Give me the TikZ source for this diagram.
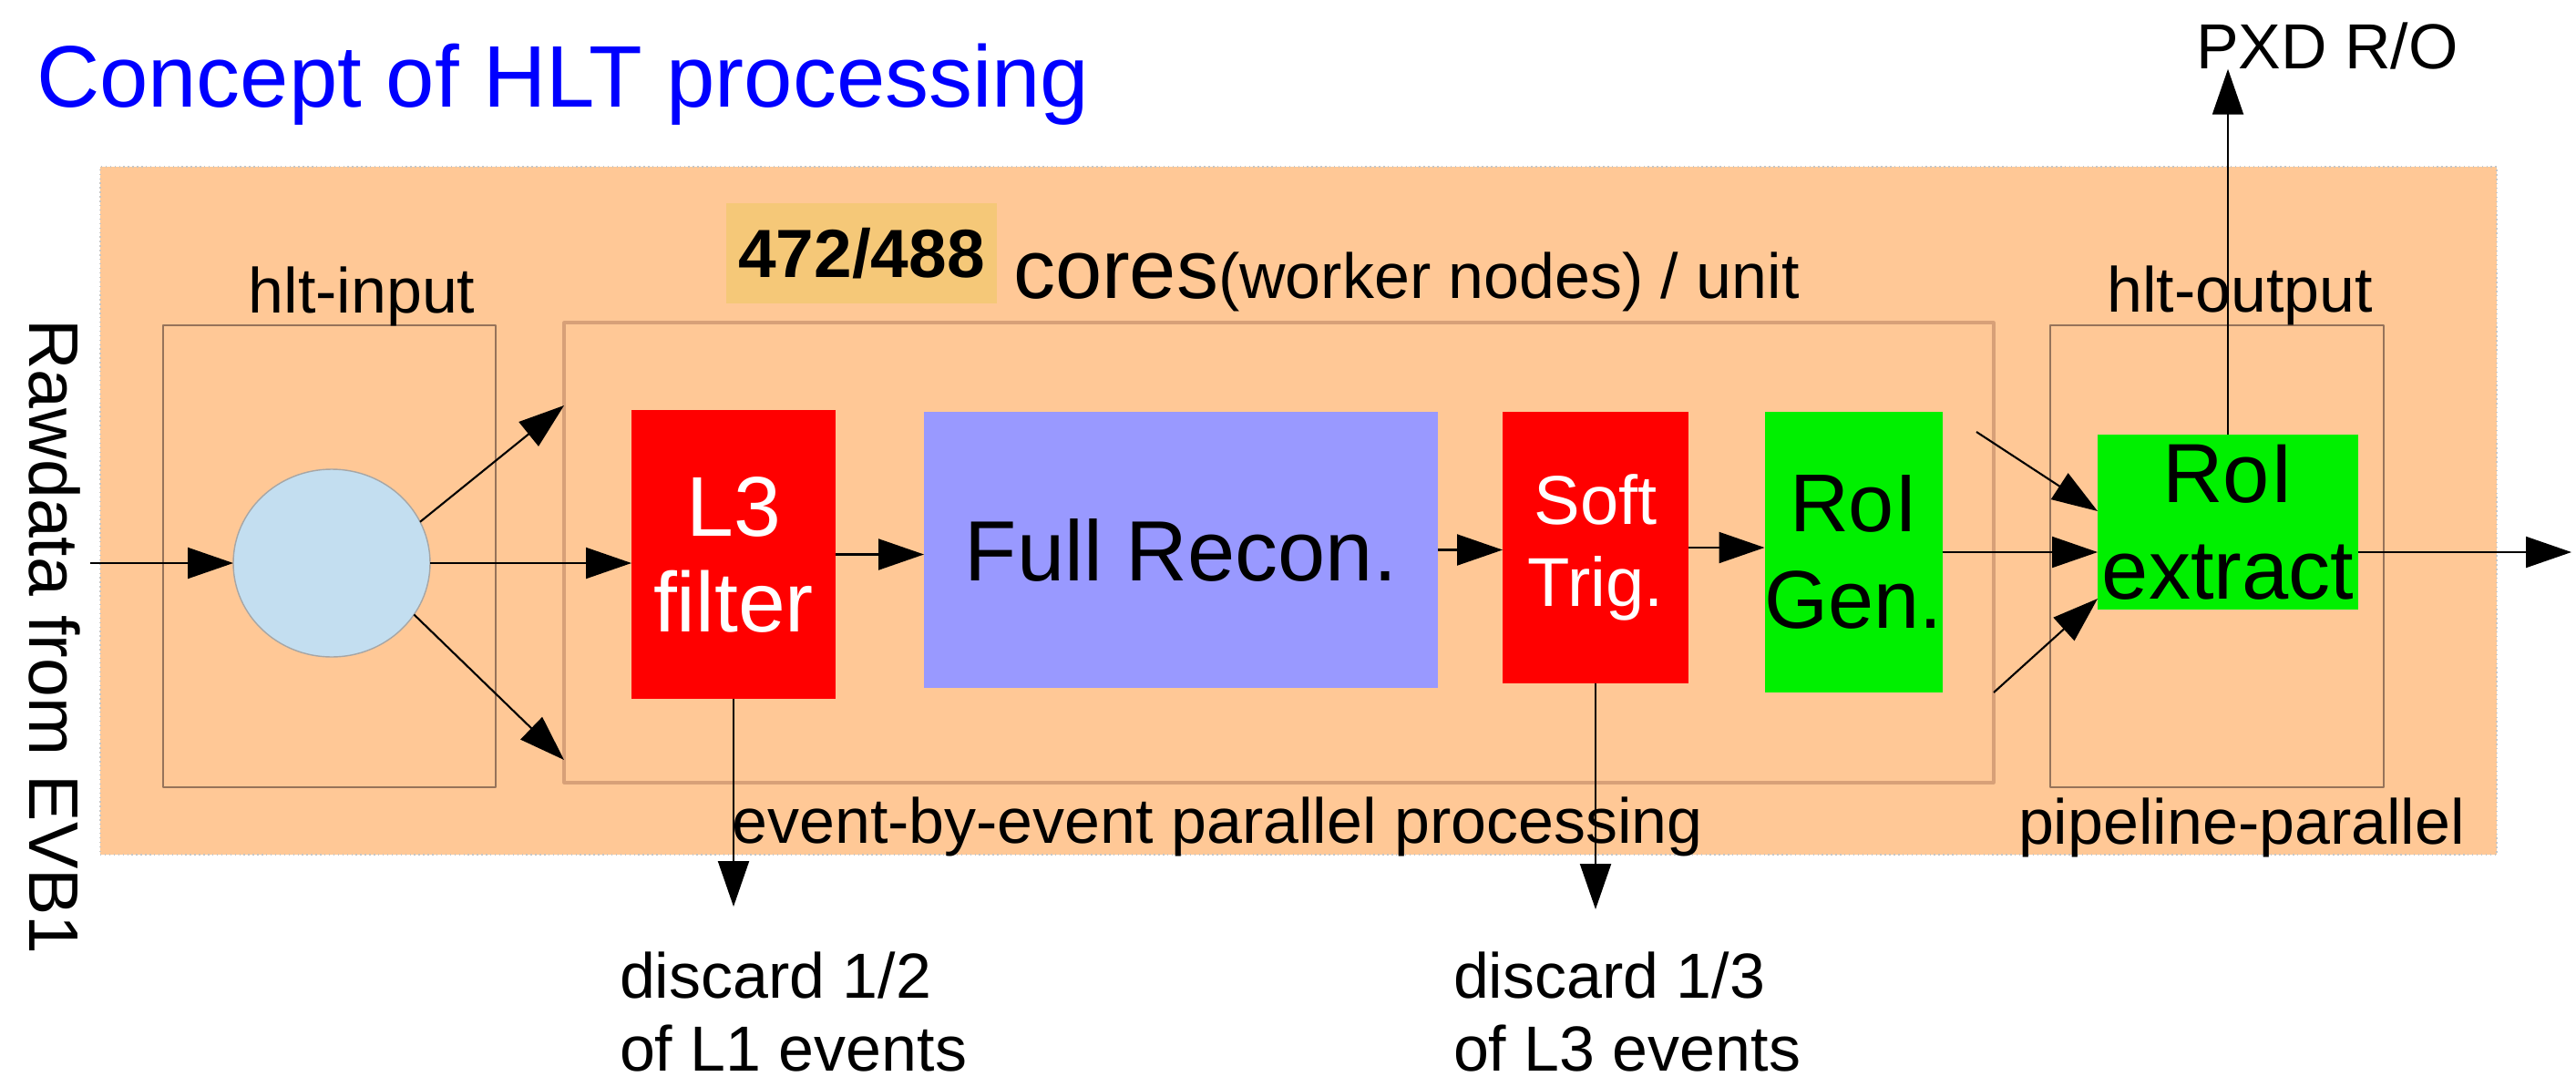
\documentclass[tikz,border=0pt]{standalone}
\usepackage{fontspec}
\setmainfont{Liberation Sans}
\usetikzlibrary{arrows.meta,shapes.geometric}
\definecolor{peach}{RGB}{255,200,150}
\definecolor{peachdark}{RGB}{245,200,120}
\definecolor{lightblue}{RGB}{195,222,240}
\definecolor{lavender}{RGB}{153,153,255}
\definecolor{brightgreen}{RGB}{0,240,0}
\definecolor{boxline}{RGB}{150,115,90}
\definecolor{coreline}{RGB}{215,160,120}
\begin{document}
\begin{tikzpicture}[line join=round, >={Triangle[length=0.5cm,width=0.34cm]},
	every node/.style={inner sep=0pt, outer sep=0pt},
	arr/.style={->, line width=0.6pt},
	frame/.style={draw=boxline, line width=0.6pt, anchor=north west},
	lbl/.style={font=\fontsize{19.9}{22.8}\selectfont},
	stage/.style={align=center, font=\fontsize{26.5}{29.9}\selectfont}]
	\useasboundingbox (0,0) rectangle (28.27,-11.92);
	\node[anchor=base west, text=blue, font=\fontsize{27.3}{32}\selectfont] (title) at (0.40,-1.17) {Concept of HLT processing};
	\node[anchor=north west, fill=peach, draw=gray!45, densely dotted, minimum width=26.30cm, minimum height=7.55cm] (unit) at (1.10,-1.83) {};
	\node[frame, minimum width=3.65cm, minimum height=5.07cm] (hltin) at (1.79,-3.57) {};
	\node[frame, draw=coreline, line width=0.9pt, minimum width=15.69cm, minimum height=5.05cm] (cores) at (6.19,-3.54) {};
	\node[frame, minimum width=3.66cm, minimum height=5.07cm] (hltout) at (22.50,-3.57) {};
	\node[fill=peachdark, minimum width=2.97cm, minimum height=1.10cm, font=\bfseries\fontsize{21.3}{25}\selectfont] (ncores) at (9.455,-2.78) {472/488};
	\node[anchor=base west, font=\fontsize{26.2}{30}\selectfont] (corestxt) at (11.12,-3.27) {cores{\fontsize{19.9}{22.8}\selectfont(worker nodes) / unit}};
	\node[lbl, anchor=base] (inlbl) at (3.97,-3.43) {hlt-input};
	\node[lbl, anchor=base] (outlbl) at (24.58,-3.42) {hlt-output};
	\node[lbl, anchor=base] (evlbl) at (13.36,-9.25) {event-by-event parallel processing};
	\node[lbl, anchor=base] (pplbl) at (24.60,-9.26) {pipeline-parallel};
	\node[lbl, anchor=base west] (pxd) at (24.10,-0.75) {PXD R/O};
	\node[rotate=-90, font=\fontsize{21.9}{26}\selectfont] (raw) at (0.60,-6.99) {Rawdata from EVB1};
	\node[ellipse, fill=lightblue, draw=gray!70, line width=0.4pt, minimum width=2.16cm, minimum height=2.06cm] (disp) at (3.64,-6.18) {};
	\node[stage, fill=red, text=white, minimum width=2.24cm, minimum height=3.17cm] (l3) at (8.05,-6.085) {L3\\filter};
	\node[stage, fill=lavender, minimum width=5.64cm, minimum height=3.03cm, font=\fontsize{26.7}{30}\selectfont] (full) at (12.96,-6.035) {Full Recon.};
	\node[stage, fill=red, text=white, minimum width=2.04cm, minimum height=2.98cm, font=\fontsize{21.6}{25.6}\selectfont] (soft) at (17.51,-6.01) {Soft\\Trig.};
	\node[stage, fill=brightgreen, minimum width=1.90cm, minimum height=3.08cm, font=\fontsize{25.6}{30.2}\selectfont] (gen) at (20.34,-6.06) {RoI\\Gen.};
	\node[stage, fill=brightgreen, minimum width=2.86cm, minimum height=1.92cm, font=\fontsize{26.2}{30.2}\selectfont] (ext) at (24.45,-5.73) {RoI\\extract};
	\node[lbl, align=left, anchor=north west] (disc1) at (6.80,-10.45) {discard 1/2\\of L1 events};
	\node[lbl, align=left, anchor=north west] (disc2) at (15.95,-10.45) {discard 1/3\\of L3 events};
	\coordinate (rawin) at (0.99,-6.18);
	\coordinate (fanup) at (6.19,-4.45);
	\coordinate (fandn) at (6.19,-8.34);
	\coordinate (joinup) at (21.69,-4.74);
	\coordinate (joindn) at (21.88,-7.60);
	\coordinate (outp) at (28.22,-6.06);
	\coordinate (drop1) at (8.05,-9.95);
	\coordinate (drop2) at (17.51,-9.98);
	\draw[arr] (rawin) -- (disp.west);
	\draw[arr] (disp.25) -- (fanup);
	\draw[arr] (disp.east) -- (disp.east -| l3.west);
	\draw[arr] (disp.-32) -- (fandn);
	\draw[arr] (l3.east) -- (l3.east -| full.west);
	\draw[arr] (full.east) -- (full.east -| soft.west);
	\draw[arr] (soft.east) -- (soft.east -| gen.west);
	\draw[arr] (gen.east) -- (gen.east -| ext.west);
	\draw[arr] (joinup) -- ([yshift=0.12cm]ext.west);
	\draw[arr] (joindn) -- ([yshift=-0.84cm]ext.west);
	\draw[arr] (gen.east -| ext.east) -- (outp);
	\draw[arr] (ext.north) -- (ext.north |- pxd.south);
	\draw[arr] (l3.south) -- (drop1);
	\draw[arr] (soft.south) -- (drop2);
\end{tikzpicture}
\end{document}
